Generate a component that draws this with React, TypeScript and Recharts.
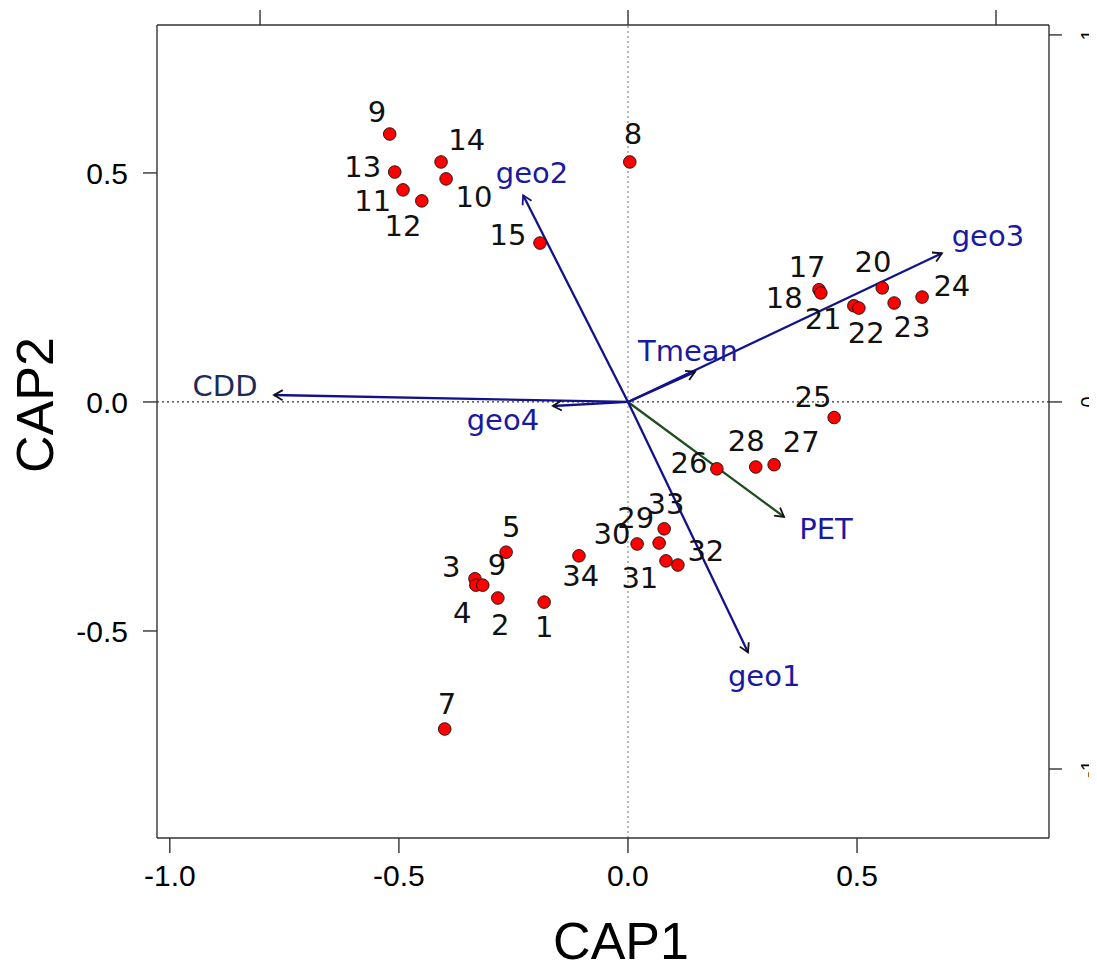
import { ReferenceLine, Scatter, ScatterChart, XAxis, YAxis } from 'recharts';

// site scores (CAP1 / CAP2)
const siteNames = ['1', '2', '3', '4', '5', '9', '7', '8', '9', '10', '11', '12', '13', '14', '15', '17', '18', '20', '21', '22', '23', '24', '25', '26', '27', '28', '29', '30', '31', '32', '33', '34'];
const cap1 = [-0.183, -0.284, -0.334, -0.332, -0.266, -0.317, -0.4, 0.004, -0.52, -0.397, -0.491, -0.45, -0.509, -0.408, -0.192, 0.417, 0.421, 0.555, 0.493, 0.504, 0.581, 0.642, 0.45, 0.194, 0.319, 0.279, 0.068, 0.02, 0.083, 0.109, 0.079, -0.107];
const cap2 = [-0.437, -0.428, -0.386, -0.4, -0.328, -0.4, -0.714, 0.524, 0.585, 0.487, 0.463, 0.439, 0.502, 0.524, 0.347, 0.245, 0.238, 0.249, 0.21, 0.205, 0.216, 0.229, -0.034, -0.146, -0.137, -0.142, -0.308, -0.31, -0.347, -0.356, -0.277, -0.336];
// where each site number is written (same units)
const siteTextX = [-0.183, -0.279, -0.386, -0.362, -0.255, -0.286, -0.395, 0.011, -0.548, -0.336, -0.557, -0.491, -0.579, -0.352, -0.262, 0.391, 0.341, 0.535, 0.426, 0.52, 0.62, 0.707, 0.404, 0.133, 0.378, 0.258, 0.017, -0.035, 0.026, 0.17, 0.083, -0.103];
const siteTextY = [-0.491, -0.485, -0.36, -0.459, -0.273, -0.356, -0.659, 0.585, 0.633, 0.448, 0.439, 0.386, 0.513, 0.572, 0.365, 0.295, 0.229, 0.306, 0.181, 0.151, 0.164, 0.255, 0.011, -0.133, -0.087, -0.085, -0.253, -0.288, -0.384, -0.325, -0.221, -0.378];

// biplot arrows (secondary axes)
const envNames = ['geo2', 'geo3', 'Tmean', 'CDD', 'geo4', 'PET', 'geo1'];
const envX = [-0.285, 0.853, 0.182, -0.962, -0.204, 0.424, 0.326];
const envY = [0.563, 0.405, 0.082, 0.019, -0.011, -0.313, -0.682];
const envTextX = [-0.261, 0.978, 0.163, -1.095, -0.34, 0.538, 0.37];
const envTextY = [0.626, 0.452, 0.139, 0.044, -0.049, -0.346, -0.746];

const cap1Ticks = [-1, -0.5, 0, 0.5];
const cap2Ticks = [-0.5, 0, 0.5];
const biplotTicks = [-1, 0, 1];

const NAVY = '#12128c';
const LABEL_FS = 29;

function arrowColor(name: string) {
  return name === 'PET' ? '#1f4d1f' : NAVY;
}

function envTextColor(name: string) {
  return name === 'CDD' ? '#1b2a58' : '#1a1aa0';
}

function BiplotArrow(props: any) {
  const { x1, y1, x2, y2, name } = props;
  const a = Math.atan2(y2 - y1, x2 - x1);
  const len = 10;
  const spread = Math.PI / 6;
  const hx1 = x2 - len * Math.cos(a - spread);
  const hy1 = y2 - len * Math.sin(a - spread);
  const hx2 = x2 - len * Math.cos(a + spread);
  const hy2 = y2 - len * Math.sin(a + spread);
  const head = name === 'geo2' ? NAVY : '#111';
  return (
    <g>
      <line x1={x1} y1={y1} x2={x2} y2={y2} stroke={arrowColor(name)} strokeWidth={2.3} />
      <polyline points={`${hx1},${hy1} ${x2},${y2} ${hx2},${hy2}`} fill="none" stroke={head} strokeWidth={1.8} />
    </g>
  );
}

function SiteDot(props: any) {
  const { cx, cy } = props;
  return <circle cx={cx} cy={cy} r={6.3} fill="#ff0000" stroke="#111" strokeWidth={0.9} />;
}

function SiteText(props: any) {
  const { cx, cy, payload } = props;
  return (
    <text x={cx} y={cy + LABEL_FS * 0.36} textAnchor="middle" fontFamily="DejaVu Sans" fontSize={LABEL_FS} fill="#111">
      {payload.name}
    </text>
  );
}

function EnvText(props: any) {
  const { cx, cy, payload } = props;
  return (
    <text x={cx} y={cy + LABEL_FS * 0.36} textAnchor="middle" fontFamily="DejaVu Sans" fontSize={LABEL_FS} fill={envTextColor(payload.name)}>
      {payload.name}
    </text>
  );
}

function RightTick(props: any) {
  const { x, y, payload } = props;
  return (
    <text transform={`translate(${x + 33},${y}) rotate(-90)`} textAnchor="middle" fontFamily="Liberation Sans" fontSize={20} fill="#000">
      {payload.value}
    </text>
  );
}

export default function App() {
  const sites = siteNames.map((name, i) => ({ name, x: cap1[i], y: cap2[i] }));
  const siteText = siteNames.map((name, i) => ({ name, x: siteTextX[i], y: siteTextY[i] }));
  const envText = envNames.map((name, i) => ({ name, x: envTextX[i], y: envTextY[i] }));
  const tickFont = { fill: '#000', fontSize: 30, fontFamily: 'Liberation Sans' };

  return (
    <div style={{ margin: '-8px 0 0 -8px', width: 1097, height: 960 }}>
      <ScatterChart width={1097} height={968} margin={{ top: 0, right: 0, bottom: 0, left: 0 }}>
        <XAxis
          xAxisId="cap"
          type="number"
          dataKey="x"
          domain={[-1.028, 0.919]}
          allowDataOverflow
          ticks={cap1Ticks}
          tickFormatter={(v: number) => v.toFixed(1)}
          height={130}
          tickSize={15}
          tickMargin={12}
          stroke="#333"
          strokeWidth={1.4}
          tick={tickFont}
          label={{ value: 'CAP1', position: 'insideBottom', offset: 9, dx: 18, fill: '#000', fontSize: 52, fontFamily: 'Liberation Sans' }}
        />
        <XAxis
          xAxisId="bp"
          orientation="top"
          type="number"
          dataKey="x"
          domain={[-1.28, 1.144]}
          allowDataOverflow
          ticks={biplotTicks}
          tickFormatter={() => ''}
          height={25}
          tickSize={15}
          stroke="#333"
          strokeWidth={1.4}
        />
        <YAxis
          yAxisId="cap"
          type="number"
          dataKey="y"
          domain={[-0.952, 0.823]}
          allowDataOverflow
          ticks={cap2Ticks}
          tickFormatter={(v: number) => v.toFixed(1)}
          width={157}
          tickSize={14}
          tickMargin={15}
          stroke="#333"
          strokeWidth={1.4}
          tick={tickFont}
          label={{
            content: () => (
              <text transform="translate(53,405) rotate(-90)" textAnchor="middle" fontFamily="Liberation Sans" fontSize={52} fill="#000">
                CAP2
              </text>
            ),
          }}
        />
        <YAxis
          yAxisId="bp"
          orientation="right"
          type="number"
          dataKey="y"
          domain={[-1.188, 1.027]}
          allowDataOverflow
          ticks={biplotTicks}
          width={48}
          tickSize={13}
          tickMargin={0}
          stroke="#333"
          strokeWidth={1.4}
          tick={<RightTick />}
        />
        <ReferenceLine xAxisId="cap" yAxisId="cap" x={0} stroke="#888" strokeWidth={1.2} strokeDasharray="2 3" />
        <ReferenceLine xAxisId="cap" yAxisId="cap" y={0} stroke="#333" strokeWidth={1.2} strokeDasharray="2 3" />
        {envNames.map((name, i) => (
          <ReferenceLine
            key={name}
            xAxisId="bp"
            yAxisId="bp"
            segment={[{ x: 0, y: 0 }, { x: envX[i], y: envY[i] }]}
            shape={(p: any) => <BiplotArrow {...p} name={name} />}
          />
        ))}
        <Scatter xAxisId="bp" yAxisId="bp" data={envText} shape={EnvText} isAnimationActive={false} />
        <Scatter xAxisId="cap" yAxisId="cap" data={sites} shape={SiteDot} isAnimationActive={false} />
        <Scatter xAxisId="cap" yAxisId="cap" data={siteText} shape={SiteText} isAnimationActive={false} />
      </ScatterChart>
    </div>
  );
}
